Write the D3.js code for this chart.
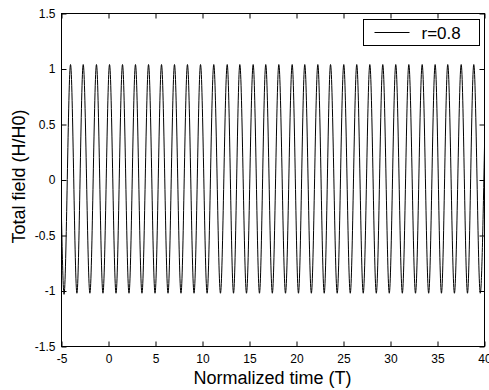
<!DOCTYPE html>
<html>
<head>
<meta charset="utf-8">
<script src="https://cdn.jsdelivr.net/npm/d3@7"></script>
<style>
  body { margin: 0; background: #fff; }
  svg { display: block; font-family: "Liberation Sans", Arial, sans-serif; }
</style>
</head>
<body>
<svg id="chart" width="489" height="390"></svg>
<script>
// turning points of the trace (time in T, field in H/H0)
let extremaTime = [
  -5, -4.73, -4.04, -3.36, -2.69, -1.98, -1.28, -0.59, 0.11, 0.80, 1.49,
  2.18, 2.87, 3.56, 4.26, 4.95, 5.64, 6.33, 7.02, 7.71, 8.40, 9.10, 9.79,
  10.49, 11.20, 11.91, 12.63, 13.30, 13.97, 14.68, 15.39, 16.06, 16.73,
  17.43, 18.12, 18.83, 19.54, 20.21, 20.88, 21.58, 22.27, 22.95, 23.62,
  24.33, 25.03, 25.72, 26.41, 27.10, 27.80, 28.49, 29.18, 29.87, 30.56,
  31.26, 31.95, 32.66, 33.37, 34.06, 34.75, 35.42, 36.09, 36.80, 37.52,
  38.19, 38.86, 39.55, 40
]
let extremaValue = [
  -0.35, -1.03, 1.04, -1.02, 1.04, -1.02, 1.04, -1.02, 1.04, -1.02, 1.04,
  -1.02, 1.04, -1.02, 1.04, -1.02, 1.04, -1.02, 1.04, -1.02, 1.04, -1.02, 1.04,
  -1.02, 1.04, -1.02, 1.04, -1.02, 1.04, -1.02, 1.04, -1.02, 1.04,
  -1.02, 1.04, -1.02, 1.04, -1.02, 1.04, -1.02, 1.04, -1.02, 1.04,
  -1.02, 1.04, -1.02, 1.04, -1.02, 1.04, -1.02, 1.04, -1.02, 1.04,
  -1.02, 1.04, -1.02, 1.04, -1.02, 1.04, -1.02, 1.04, -1.02, 1.04,
  -1.02, 1.04, -1.02, 0.3
]
let xTicks = [-5, 0, 5, 10, 15, 20, 25, 30, 35, 40]
let yTicks = [-1.5, -1, -0.5, 0, 0.5, 1, 1.5]
let seriesName = "r=0.8"

let data = extremaTime.map((t, i) => ({ t, v: extremaValue[i] }))

let margin = { top: 13, right: 5, bottom: 44, left: 61 }
let width = 489 - margin.left - margin.right
let height = 390 - margin.top - margin.bottom

let svg = d3.select("#chart")
let g = svg.append("g")
  .attr("transform", `translate(${margin.left + 0.5},${margin.top + 0.5})`)

let x = d3.scaleLinear().domain([-5, 40]).range([0, width])
let y = d3.scaleLinear().domain([-1.5, 1.5]).range([height, 0])

let fmt = d => String(d)

// axes with inward ticks on all four sides (matlab box)
let styleAxis = sel => {
  sel.select(".domain").remove()
  sel.selectAll(".tick line").attr("stroke", "#000")
  sel.selectAll(".tick text").attr("fill", "#000").style("font-size", "12px")
}
g.append("g")
  .attr("transform", `translate(0,${height})`)
  .call(d3.axisBottom(x).tickValues(xTicks).tickFormat(fmt).tickSizeInner(-5).tickPadding(8))
  .call(styleAxis)
g.append("g")
  .call(d3.axisTop(x).tickValues(xTicks).tickSizeInner(-5).tickFormat(""))
  .call(styleAxis)
g.append("g")
  .call(d3.axisLeft(y).tickValues(yTicks).tickFormat(fmt).tickSizeInner(-5).tickPadding(6))
  .call(styleAxis)
g.append("g")
  .attr("transform", `translate(${width},0)`)
  .call(d3.axisRight(y).tickValues(yTicks).tickSizeInner(-5).tickFormat(""))
  .call(styleAxis)

g.append("rect")
  .attr("width", width)
  .attr("height", height)
  .attr("fill", "none")
  .attr("stroke", "#000")

let line = d3.line()
  .x(d => x(d.t))
  .y(d => y(d.v))
  .curve(d3.curveMonotoneX)

g.append("path")
  .datum(data)
  .attr("fill", "none")
  .attr("stroke", "#000")
  .attr("stroke-width", 1)
  .attr("d", line)

// legend
let legend = g.append("g")
  .attr("transform", `translate(${width - 121},6)`)
legend.append("rect")
  .attr("width", 116)
  .attr("height", 26)
  .attr("fill", "#fff")
  .attr("stroke", "#000")
legend.append("line")
  .attr("x1", 11).attr("x2", 46)
  .attr("y1", 13).attr("y2", 13)
  .attr("stroke", "#000")
legend.append("text")
  .attr("x", 58)
  .attr("y", 19)
  .style("font-size", "17px")
  .text(seriesName)

// axis titles
svg.append("text")
  .attr("x", margin.left + width / 2)
  .attr("y", 384)
  .attr("text-anchor", "middle")
  .style("font-size", "18px")
  .text("Normalized time (T)")
svg.append("text")
  .attr("transform", `translate(25,${margin.top + height / 2 - 3}) rotate(-90)`)
  .attr("text-anchor", "middle")
  .style("font-size", "18px")
  .text("Total field (H/H0)")
</script>
</body>
</html>
